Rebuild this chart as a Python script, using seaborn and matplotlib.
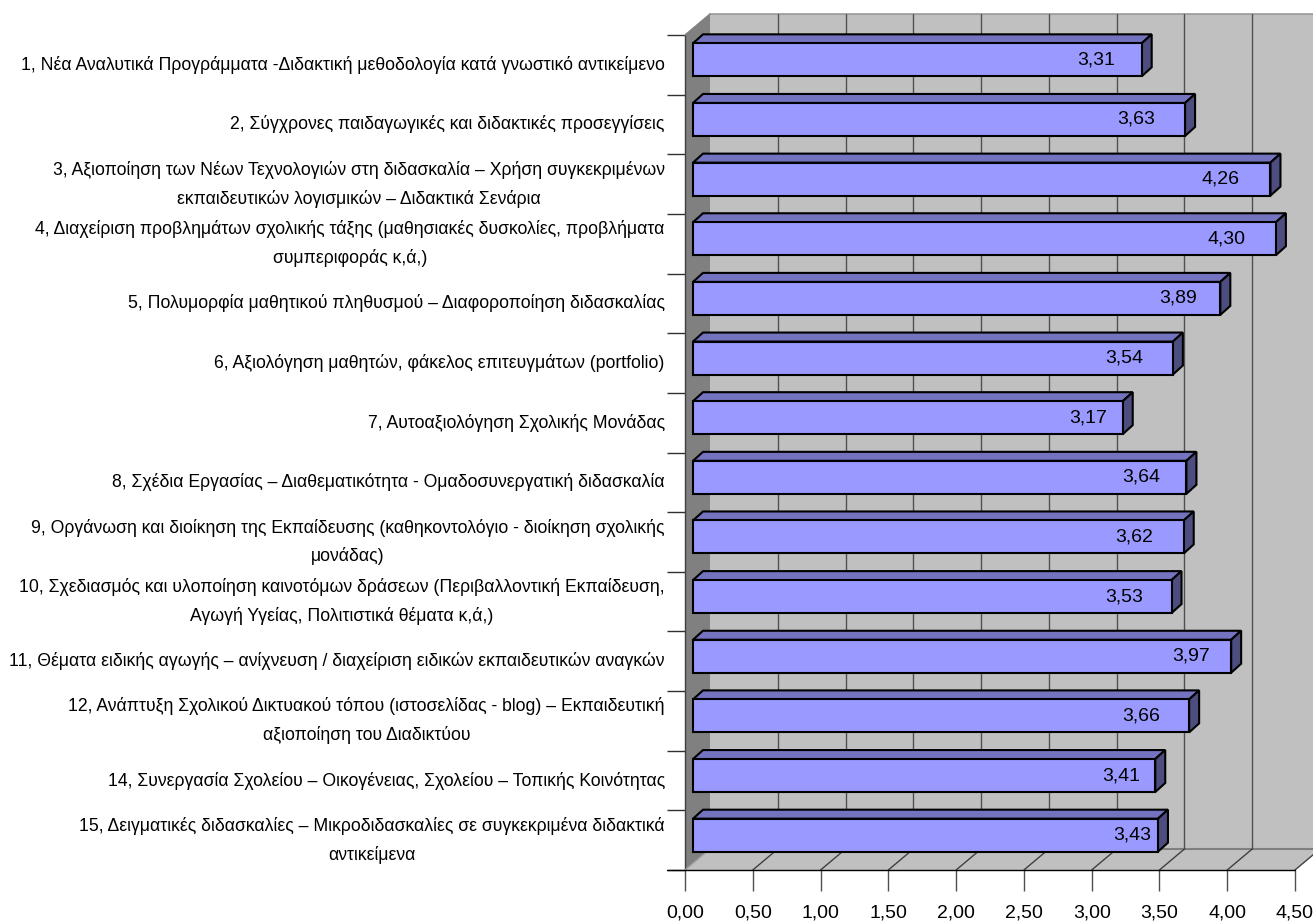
import matplotlib
matplotlib.use("Agg")
import matplotlib.pyplot as plt
import seaborn as sns
import pandas as pd
import numpy as np
from matplotlib.patches import Polygon
from matplotlib.lines import Line2D
from matplotlib.transforms import IdentityTransform

categories = [
    "1, Νέα Αναλυτικά Προγράμματα -Διδακτική μεθοδολογία κατά γνωστικό αντικείμενο",
    "2, Σύγχρονες παιδαγωγικές και διδακτικές προσεγγίσεις",
    "3, Αξιοποίηση των Νέων Τεχνολογιών στη διδασκαλία – Χρήση συγκεκριμένων\nεκπαιδευτικών λογισμικών – Διδακτικά Σενάρια",
    "4, Διαχείριση προβλημάτων σχολικής τάξης (μαθησιακές δυσκολίες, προβλήματα\nσυμπεριφοράς κ,ά,)",
    "5, Πολυμορφία μαθητικού πληθυσμού – Διαφοροποίηση διδασκαλίας",
    "6, Αξιολόγηση μαθητών, φάκελος επιτευγμάτων (portfolio)",
    "7, Αυτοαξιολόγηση Σχολικής Μονάδας",
    "8, Σχέδια Εργασίας – Διαθεματικότητα - Ομαδοσυνεργατική διδασκαλία",
    "9, Οργάνωση και διοίκηση της Εκπαίδευσης (καθηκοντολόγιο - διοίκηση σχολικής\nμονάδας)",
    "10, Σχεδιασμός και υλοποίηση καινοτόμων δράσεων (Περιβαλλοντική Εκπαίδευση,\nΑγωγή Υγείας, Πολιτιστικά θέματα κ,ά,)",
    "11, Θέματα ειδικής αγωγής – ανίχνευση / διαχείριση ειδικών εκπαιδευτικών αναγκών",
    "12, Ανάπτυξη Σχολικού Δικτυακού τόπου (ιστοσελίδας - blog) – Εκπαιδευτική\nαξιοποίηση του Διαδικτύου",
    "14, Συνεργασία Σχολείου – Οικογένειας, Σχολείου – Τοπικής Κοινότητας",
    "15, Δειγματικές διδασκαλίες – Μικροδιδασκαλίες σε συγκεκριμένα διδακτικά\nαντικείμενα",
]
values = [3.31, 3.63, 4.26, 4.30, 3.89, 3.54, 3.17, 3.64, 3.62, 3.53, 3.97, 3.66, 3.41, 3.43]
x_ticks = [0, 0.5, 1, 1.5, 2, 2.5, 3, 3.5, 4, 4.5]
x_labels = ["0,00", "0,50", "1,00", "1,50", "2,00", "2,50", "3,00", "3,50", "4,00", "4,50"]
label_shift_px = [46, 49, 50, 49, 42, 49, 35, 45, 50, 47, 40, 48, 34, 26]

W, H, DPI = 1313, 921, 100
sns.set_theme(style="white")
plt.rcParams["font.family"] = ["Liberation Sans", "DejaVu Sans"]

fig = plt.figure(figsize=(W / DPI, H / DPI), dpi=DPI, facecolor="white")
ax = fig.add_axes([685 / W, 1 - 870 / H, 610 / W, 835 / H])

df = pd.DataFrame({"cat": categories, "val": values})
sns.barplot(data=df, y="cat", x="val", order=categories, orient="h", width=0.553,
            color="#9999FF", saturation=1, edgecolor="black", linewidth=1.5, ax=ax, zorder=5)
ax.set_xlim(0, 4.5)
ax.set_ylim(len(categories) - 0.5, -0.5)
ax.set_xlabel("")
ax.set_ylabel("")
ax.set_facecolor("none")
for s in ax.spines.values():
    s.set_visible(False)

# y: labels at band centres, ticks at band boundaries
ax.set_yticks(np.arange(len(categories)))
ax.set_yticklabels(categories, fontsize=12.7, linespacing=1.78, multialignment="center",
                   color="black", va="center")
ax.set_yticks(np.arange(len(categories) + 1) - 0.5, minor=True)
ax.tick_params(axis="y", which="major", length=0, pad=14.5)
ax.tick_params(axis="y", which="minor", length=13, width=1, color="#303030", left=True)
ax.set_xticks(x_ticks)
ax.set_xticklabels(x_labels, fontsize=14, color="black")
ax.tick_params(axis="x", which="major", length=15, width=1, color="#505050", pad=10, bottom=True)

fig.canvas.draw()
to_px = ax.transData.transform
ident = IdentityTransform()

DEPTH = np.array([25, 21])     # floor/wall depth in px
FRONT = np.array([8, 5])       # bar plane shift from the front edge
BAR_D = np.array([10, 9])      # bar depth in px
ymin, ymax = len(categories) - 0.5, -0.5
xmax = x_ticks[-1]

def poly(points, **kw):
    ax.add_patch(Polygon(np.array(points), closed=True, transform=ident, clip_on=False, **kw))

def line(a, b, **kw):
    ax.add_line(Line2D([a[0], b[0]], [a[1], b[1]], transform=ident, clip_on=False, **kw))

bars = list(ax.patches)
bl, br = to_px((0, ymin)), to_px((xmax, ymin))
tl = to_px((0, ymax))
tr = to_px((xmax, ymax))

poly([bl + DEPTH, br + DEPTH, tr + DEPTH, tl + DEPTH], fc="#C0C0C0", ec="none", zorder=1)
poly([bl, br, br + DEPTH, bl + DEPTH], fc="#C0C0C0", ec="none", zorder=1)
poly([bl, tl, tl + DEPTH, bl + DEPTH], fc="#808080", ec="none", zorder=1.5)
line(tl + DEPTH, tr + DEPTH, color="#999999", lw=1.2, zorder=2)
line(bl + DEPTH, br + DEPTH, color="#808080", lw=1.5, zorder=2)
line(bl, tl, color="#404040", lw=1, zorder=3)
line(tl, tl + DEPTH, color="#808080", lw=1, zorder=3)
line(bl, bl + DEPTH, color="#A0A0A0", lw=1, zorder=3)
line(bl, br, color="black", lw=1, zorder=3)
line(bl - np.array([18, 0]), bl, color="black", lw=1, zorder=3)

for t in x_ticks[1:]:
    f = to_px((t, ymin))
    b = to_px((t, ymax))
    line(f + DEPTH, b + DEPTH, color="#505050", lw=1, zorder=2)
    line(f, f + DEPTH, color="#404040", lw=1, zorder=2)

for i, bar in enumerate(bars):
    y, w, h = bar.get_y(), bar.get_width(), bar.get_height()
    p0 = to_px((0, y + h)) + FRONT      # lower-left (display)
    p1 = to_px((w, y + h)) + FRONT      # lower-right
    p2 = to_px((w, y)) + FRONT          # upper-right
    p3 = to_px((0, y)) + FRONT          # upper-left
    bar.set_visible(False)
    poly([p0, p1, p2, p3], fc="#9999FF", ec="black", lw=1.5, zorder=6, joinstyle="miter")
    poly([p3, p2, p2 + BAR_D, p3 + BAR_D], fc="#7373BF", ec="black", lw=1.5, zorder=5.5, joinstyle="miter")
    poly([p1, p1 + BAR_D, p2 + BAR_D, p2], fc="#4D4D80", ec="black", lw=1.5, zorder=5.5, joinstyle="miter")
    cx = p1[0] - label_shift_px[i]
    cy = (p1[1] + p2[1]) / 2
    ax.text(cx, cy, f"{values[i]:.2f}".replace(".", ","), transform=ident, ha="center", va="center",
            fontsize=14, color="black", zorder=7, clip_on=False)

fig.savefig("out.png", dpi=DPI, facecolor="white")
